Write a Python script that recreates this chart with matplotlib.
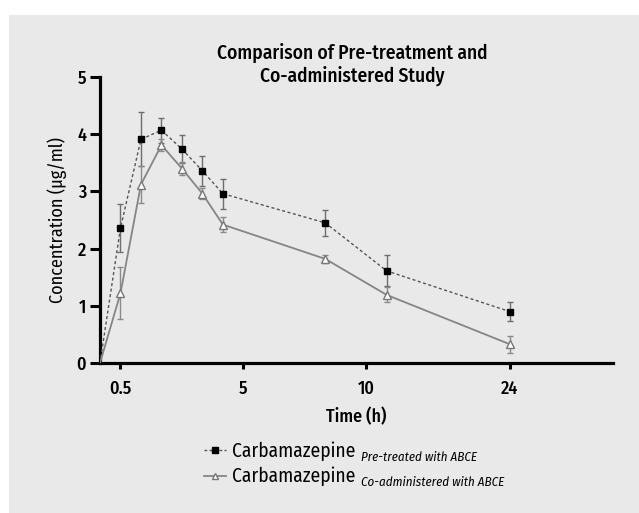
import matplotlib
matplotlib.use("Agg")
import matplotlib.pyplot as plt
from matplotlib.patches import Rectangle
from matplotlib.lines import Line2D

plt.rcParams['font.family'] = ['Fira Sans Condensed', 'DejaVu Sans']

# positions of the sampling points along the (non-linear) time axis
x_pos = [0, 1, 2, 3, 4, 5, 6, 11, 14, 20]
tick_pos = [1, 7, 13, 20]
tick_labels = ['0.5', '5', '10', '24']

pre_mean = [0, 2.36, 3.91, 4.07, 3.74, 3.36, 2.96, 2.45, 1.61, 0.90]
pre_err = [0, 0.42, 0.47, 0.22, 0.24, 0.26, 0.26, 0.23, 0.27, 0.16]
co_mean = [0, 1.22, 3.12, 3.81, 3.40, 2.96, 2.42, 1.82, 1.19, 0.33]
co_err = [0, 0.45, 0.33, 0.10, 0.12, 0.10, 0.13, 0.07, 0.13, 0.15]

panel = '#e9e9e9'
fig = plt.figure(figsize=(6.39, 5.13), dpi=100, facecolor='white')
fig.patches.append(Rectangle((9 / 639, 0), 1, 498 / 513, transform=fig.transFigure,
                             facecolor=panel, edgecolor='none', zorder=-10))

ax = fig.add_axes([100 / 639, 150 / 513, 513 / 639, 286 / 513])
ax.set_facecolor('none')

ax.errorbar(x_pos, pre_mean, yerr=pre_err, fmt='none', ecolor='#6e6e6e',
            elinewidth=1.0, capsize=2.3, capthick=1.0, zorder=2)
ax.errorbar(x_pos, co_mean, yerr=co_err, fmt='none', ecolor='#8a8a8a',
            elinewidth=1.0, capsize=2.3, capthick=1.0, zorder=2)
ax.plot(x_pos, pre_mean, color='#555555', lw=1.0, linestyle=(0, (2.2, 1.8)), zorder=3)
ax.plot(x_pos, co_mean, color='#858585', lw=1.3, zorder=3)
ax.plot(x_pos[1:], pre_mean[1:], 's', color='black', markersize=5, zorder=4)
ax.plot(x_pos[1:], co_mean[1:], '^', markerfacecolor='white', markeredgecolor='#777777',
        markeredgewidth=1.0, markersize=6, zorder=4)

ax.set_xlim(0, 25.05)
ax.set_ylim(0, 5)
ax.set_xticks(tick_pos)
ax.set_xticklabels(tick_labels, fontweight='medium', fontsize=13)
ax.set_yticks(range(6))
ax.set_yticklabels([str(v) for v in range(6)], fontweight='medium', fontsize=13)
ax.spines['top'].set_visible(False)
ax.spines['right'].set_visible(False)
ax.spines['left'].set_linewidth(2.3)
ax.spines['bottom'].set_linewidth(2.3)
ax.tick_params(axis='y', length=7, width=2.2, pad=3)
ax.tick_params(axis='x', length=4.5, width=2.2, pad=7.5)

ax.set_xlabel('Time (h)', fontweight='medium', fontsize=13, labelpad=7)
ax.set_ylabel('Concentration (µg/ml)', fontsize=13, labelpad=7)
fig.text(352 / 639, 1 - 64.5 / 513, 'Comparison of Pre-treatment and\nCo-administered Study',
         ha='center', va='center', fontsize=14, fontweight='medium', linespacing=1.2)

handles = [
    Line2D([], [], color='#555555', lw=1.0, linestyle=(0, (2.0, 1.6)), marker='s',
           markerfacecolor='black', markeredgecolor='black', markersize=4),
    Line2D([], [], color='#858585', lw=1.3, marker='^', markerfacecolor='white',
           markeredgecolor='#777777', markersize=5),
]
leg = fig.legend(handles, ['Carbamazepine', 'Carbamazepine'], loc='center left',
                 bbox_to_anchor=(186 / 639, 1 - 464 / 513), frameon=False,
                 fontsize=14, handlelength=1.15, handletextpad=0.3, labelspacing=0.3)
subs = ['Pre-treated with ABCE', 'Co-administered with ABCE']
for txt, sub in zip(leg.get_texts(), subs):
    ann = plt.Annotation(sub, xy=(1, 0), xycoords=txt, xytext=(4, 0),
                         textcoords='offset points', fontsize=9.3,
                         fontstyle='italic', va='baseline')
    ann.set_zorder(10)
    fig.add_artist(ann)

fig.savefig('out.png', dpi=100, facecolor='white')
